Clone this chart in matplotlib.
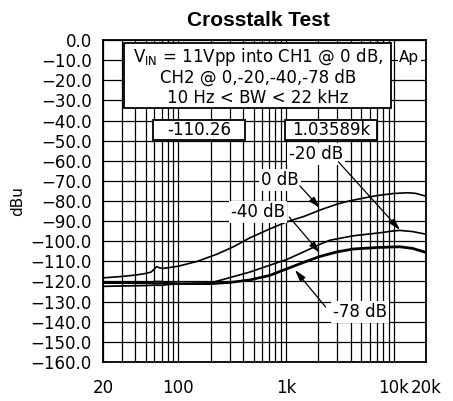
import numpy as np
import matplotlib
matplotlib.use("Agg")
import matplotlib.pyplot as plt
from matplotlib.patches import Rectangle

# crosstalk curves (Hz, dBu)
f_0db = [20, 30, 40, 50, 56, 60, 63, 67, 72, 80, 100, 150, 227, 324, 463, 700, 1000, 1500, 2070,
         3000, 4000, 5200, 7000, 9900, 13400, 16000, 20000]
v_0db = [-118.2, -117.5, -116.8, -116.0, -115.3, -113.8, -112.6, -113.2, -113.5, -113.2, -112.4,
         -110.0, -106.5, -102.8, -98.3, -94.0, -90.5, -87.5, -84.5, -81.5, -79.8, -78.6, -77.3,
         -76.3, -75.9, -76.2, -77.6]

f_20db = [20, 50, 100, 200, 300, 463, 700, 1014, 1500, 2070, 2560, 4220, 7460, 9900, 11430, 15000, 20000]
v_20db = [-120.8, -120.8, -121.0, -120.7, -118.1, -115.3, -112.0, -109.1, -105.0, -101.5, -99.5,
          -97.3, -95.8, -94.9, -94.6, -95.2, -96.5]

f_40db = [20, 50, 55, 60, 70, 80, 100, 200, 300, 463, 700, 1014, 1200, 1500, 2070, 3000, 4220,
          7460, 11430, 15000, 20000]
v_40db = [-120.7, -120.8, -120.5, -120.0, -120.1, -120.8, -121.0, -121.0, -120.3, -119.0, -116.8,
          -113.5, -112.0, -110.0, -107.3, -105.0, -103.6, -102.8, -102.5, -103.3, -105.3]

f_78db = [20, 50, 60, 70, 80, 100, 200, 300, 463, 700, 1014, 1200, 1500, 2070, 3000, 4220,
          7460, 11430, 15000, 20000]
v_78db = [-122.4, -122.0, -121.8, -121.9, -121.5, -121.2, -121.3, -120.7, -119.4, -117.3,
          -114.0, -112.5, -110.5, -107.8, -105.5, -104.1, -103.3, -103.0, -103.8, -105.8]

yticks = np.arange(-160, 1, 10)
xgrid = [20, 30, 40, 50, 60, 70, 80, 90, 100, 200, 300, 400, 500, 600, 700, 800, 900,
         1000, 2000, 3000, 4000, 5000, 6000, 7000, 8000, 9000, 10000, 20000]
xticks = [20, 100, 1000, 10000, 20000]
xlabels = ["20", "100", "1k", "10k", "20k"]

plt.rcParams['font.family'] = ['DejaVu Sans']

fig = plt.figure(figsize=(4.53, 4.01), dpi=100)
ax = fig.add_axes([0.2274, 0.0973, 0.713, 0.8029])

ax.set_xscale("log")
ax.set_xlim(20, 20000)
ax.set_ylim(-160, 0)

for x in xgrid:
    ax.axvline(x, color="black", lw=0.9, zorder=1)
for y in yticks:
    ax.axhline(y, color="black", lw=0.9, zorder=1)

ax.plot(f_0db, v_0db, color="black", lw=1.2, zorder=3)
ax.plot(f_20db, v_20db, color="black", lw=1.2, zorder=3)
ax.plot(f_40db, v_40db, color="black", lw=1.3, zorder=3)
ax.plot(f_78db, v_78db, color="black", lw=1.3, zorder=3)

ax.set_xticks(xticks)
ax.set_xticklabels(xlabels)
ax.xaxis.set_minor_locator(matplotlib.ticker.NullLocator())
ax.set_yticks(yticks)
ax.set_yticklabels([("%.1f" % v).replace("-", "\u2212") if v != 0 else "0.0" for v in yticks])
ax.tick_params(axis="both", length=0, labelsize=12)
ax.tick_params(axis="y", pad=8)
ax.tick_params(axis="x", pad=12)
for s in ax.spines.values():
    s.set_linewidth(1.3)
ax.set_ylabel("dBu", fontsize=11, labelpad=4)

fig.text(0.57, 0.95, "Crosstalk Test", ha="center", va="center",
         fontsize=15, fontweight="bold", family="Liberation Sans")

# header box
ax.add_patch(Rectangle((0.065, 0.789), 0.827, 0.202, transform=ax.transAxes,
                       facecolor="white", edgecolor="black", lw=1.3, zorder=5))
ax.text(0.48, 0.947, r"V$_{\rm IN}$ = 11Vpp into CH1 @ 0 dB,", transform=ax.transAxes,
        ha="center", va="center", fontsize=12, zorder=6)
ax.text(0.48, 0.882, "CH2 @ 0,-20,-40,-78 dB", transform=ax.transAxes,
        ha="center", va="center", fontsize=12, zorder=6)
ax.text(0.48, 0.820, "10 Hz < BW < 22 kHz", transform=ax.transAxes,
        ha="center", va="center", fontsize=12, zorder=6)

ax.add_patch(Rectangle((0.155, 0.689), 0.285, 0.063, transform=ax.transAxes,
                       facecolor="white", edgecolor="black", lw=1.3, zorder=5))
ax.text(0.2975, 0.72, "-110.26", transform=ax.transAxes, ha="center", va="center",
        fontsize=12, zorder=6)
ax.add_patch(Rectangle((0.563, 0.689), 0.285, 0.063, transform=ax.transAxes,
                       facecolor="white", edgecolor="black", lw=1.3, zorder=5))
ax.text(0.7055, 0.72, "1.03589k", transform=ax.transAxes, ha="center", va="center",
        fontsize=12, zorder=6)

ax.text(0.948, 0.947, "Ap", transform=ax.transAxes, ha="center", va="center", fontsize=11,
        zorder=6, bbox=dict(facecolor="white", edgecolor="none", pad=1))

# curve labels with arrows
wb = dict(facecolor="white", edgecolor="none", pad=1.5)
ax.text(1901, -56.6, "-20 dB", ha="center", va="center", fontsize=12, bbox=wb, zorder=6)
ax.text(881, -69.6, "0 dB", ha="center", va="center", fontsize=12, bbox=wb, zorder=6)
ax.text(551, -85.5, "-40 dB", ha="center", va="center", fontsize=12, bbox=wb, zorder=6)
ax.text(4875, -135.2, "-78 dB", ha="center", va="center", fontsize=12, bbox=wb, zorder=6)

ap = dict(arrowstyle="-|>,head_length=0.7,head_width=0.2", color="black", lw=0.9,
          shrinkA=0, shrinkB=0)
ax.annotate("", xy=(11460, -94.4), xytext=(3070, -60.5), arrowprops=ap, zorder=7)
ax.annotate("", xy=(2070, -83.5), xytext=(1350, -72.5), arrowprops=ap, zorder=7)
ax.annotate("", xy=(2070, -105.8), xytext=(1075, -88.0), arrowprops=ap, zorder=7)
ax.annotate("", xy=(1214, -114.3), xytext=(2340, -132.7), arrowprops=ap, zorder=7)

fig.savefig("out.png", dpi=100)
